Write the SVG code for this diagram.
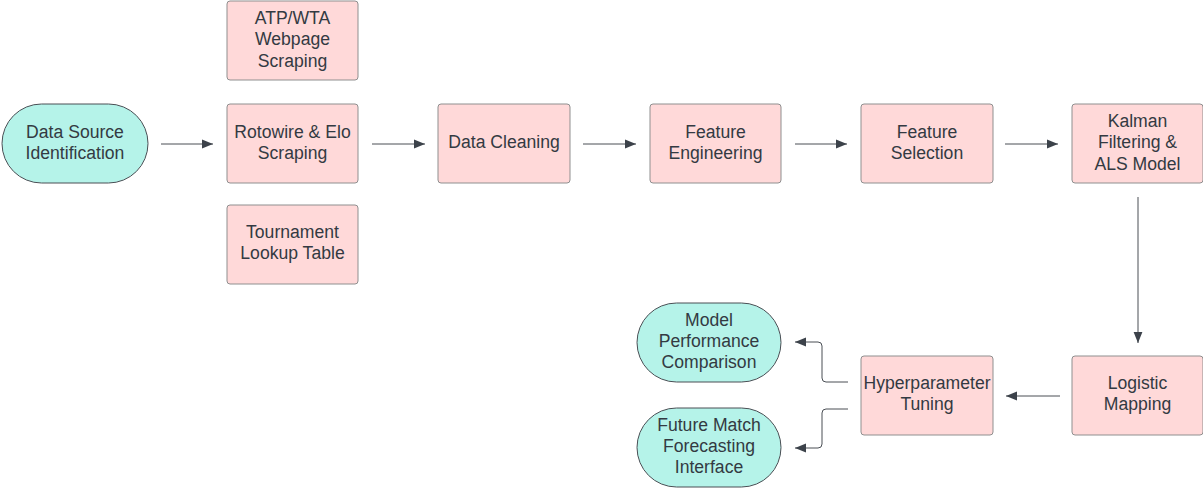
<svg xmlns="http://www.w3.org/2000/svg" width="1203" height="489" viewBox="0 0 1203 489">
<defs>
<style>
.box{fill:#ffd9d9;stroke:#8f8f8f;stroke-width:1}
.term{fill:#b5f3e9;stroke:#4a4f55;stroke-width:1}
.t{font-family:"Liberation Sans",Arial,sans-serif;font-size:17.6px;fill:#333a42;text-anchor:middle}
.c{fill:none;stroke:#4a4f55;stroke-width:1}
</style>
<marker id="ah" viewBox="0 0 10 10" refX="10" refY="5" markerWidth="11" markerHeight="11" markerUnits="userSpaceOnUse" orient="auto">
<path d="M0,1 L10,5 L0,9 Z" fill="#3c424a"/>
</marker>
</defs>
<rect width="1203" height="489" fill="#ffffff"/>
<g id="connectors">
<line class="c" x1="161" y1="144" x2="213" y2="144" marker-end="url(#ah)"/>
<line class="c" x1="372" y1="144" x2="425" y2="144" marker-end="url(#ah)"/>
<line class="c" x1="583" y1="144" x2="636" y2="144" marker-end="url(#ah)"/>
<line class="c" x1="795" y1="144" x2="847" y2="144" marker-end="url(#ah)"/>
<line class="c" x1="1005" y1="144" x2="1058" y2="144" marker-end="url(#ah)"/>
<line class="c" x1="1138" y1="197" x2="1138" y2="343" marker-end="url(#ah)"/>
<line class="c" x1="1060" y1="396" x2="1006" y2="396" marker-end="url(#ah)"/>
<path class="c" d="M848,382 H826 Q822,382 822,378 V346 Q822,342 818,342 H795" marker-end="url(#ah)"/>
<path class="c" d="M848,409 H826 Q822,409 822,413 V444 Q822,448 818,448 H795" marker-end="url(#ah)"/>
</g>
<g id="n-datasource">
<rect class="term" x="2" y="104" width="146" height="79" rx="39.5"/>
<text class="t" x="75" y="138">Data Source</text>
<text class="t" x="75" y="159">Identification</text>
</g>
<g id="n-atp">
<rect class="box" x="227" y="1" width="131" height="79" rx="3"/>
<text class="t" x="292.5" y="24">ATP/WTA</text>
<text class="t" x="292.5" y="45">Webpage</text>
<text class="t" x="292.5" y="67">Scraping</text>
</g>
<g id="n-rotowire">
<rect class="box" x="227" y="104" width="131" height="79" rx="3"/>
<text class="t" x="292.5" y="138">Rotowire &amp; Elo</text>
<text class="t" x="292.5" y="159">Scraping</text>
</g>
<g id="n-tournament">
<rect class="box" x="227" y="205" width="131" height="79" rx="3"/>
<text class="t" x="292.5" y="238">Tournament</text>
<text class="t" x="292.5" y="259">Lookup Table</text>
</g>
<g id="n-cleaning">
<rect class="box" x="438" y="104" width="132" height="79" rx="3"/>
<text class="t" x="504" y="148">Data Cleaning</text>
</g>
<g id="n-engineering">
<rect class="box" x="650" y="104" width="131" height="79" rx="3"/>
<text class="t" x="715.5" y="138">Feature</text>
<text class="t" x="715.5" y="159">Engineering</text>
</g>
<g id="n-selection">
<rect class="box" x="861" y="104" width="132" height="79" rx="3"/>
<text class="t" x="927" y="138">Feature</text>
<text class="t" x="927" y="159">Selection</text>
</g>
<g id="n-kalman">
<rect class="box" x="1072" y="104" width="131" height="79" rx="3"/>
<text class="t" x="1137.5" y="127">Kalman</text>
<text class="t" x="1137.5" y="148">Filtering &amp;</text>
<text class="t" x="1137.5" y="170">ALS Model</text>
</g>
<g id="n-logistic">
<rect class="box" x="1072" y="356" width="131" height="79" rx="3"/>
<text class="t" x="1137.5" y="389">Logistic</text>
<text class="t" x="1137.5" y="410">Mapping</text>
</g>
<g id="n-hyper">
<rect class="box" x="861" y="356" width="132" height="79" rx="3"/>
<text class="t" x="927" y="389">Hyperparameter</text>
<text class="t" x="927" y="410">Tuning</text>
</g>
<g id="n-comparison">
<rect class="term" x="637" y="303" width="144" height="79" rx="39.5"/>
<text class="t" x="709" y="326">Model</text>
<text class="t" x="709" y="347">Performance</text>
<text class="t" x="709" y="368">Comparison</text>
</g>
<g id="n-forecast">
<rect class="term" x="637" y="408" width="144" height="79" rx="39.5"/>
<text class="t" x="709" y="431">Future Match</text>
<text class="t" x="709" y="452">Forecasting</text>
<text class="t" x="709" y="473">Interface</text>
</g>
</svg>
